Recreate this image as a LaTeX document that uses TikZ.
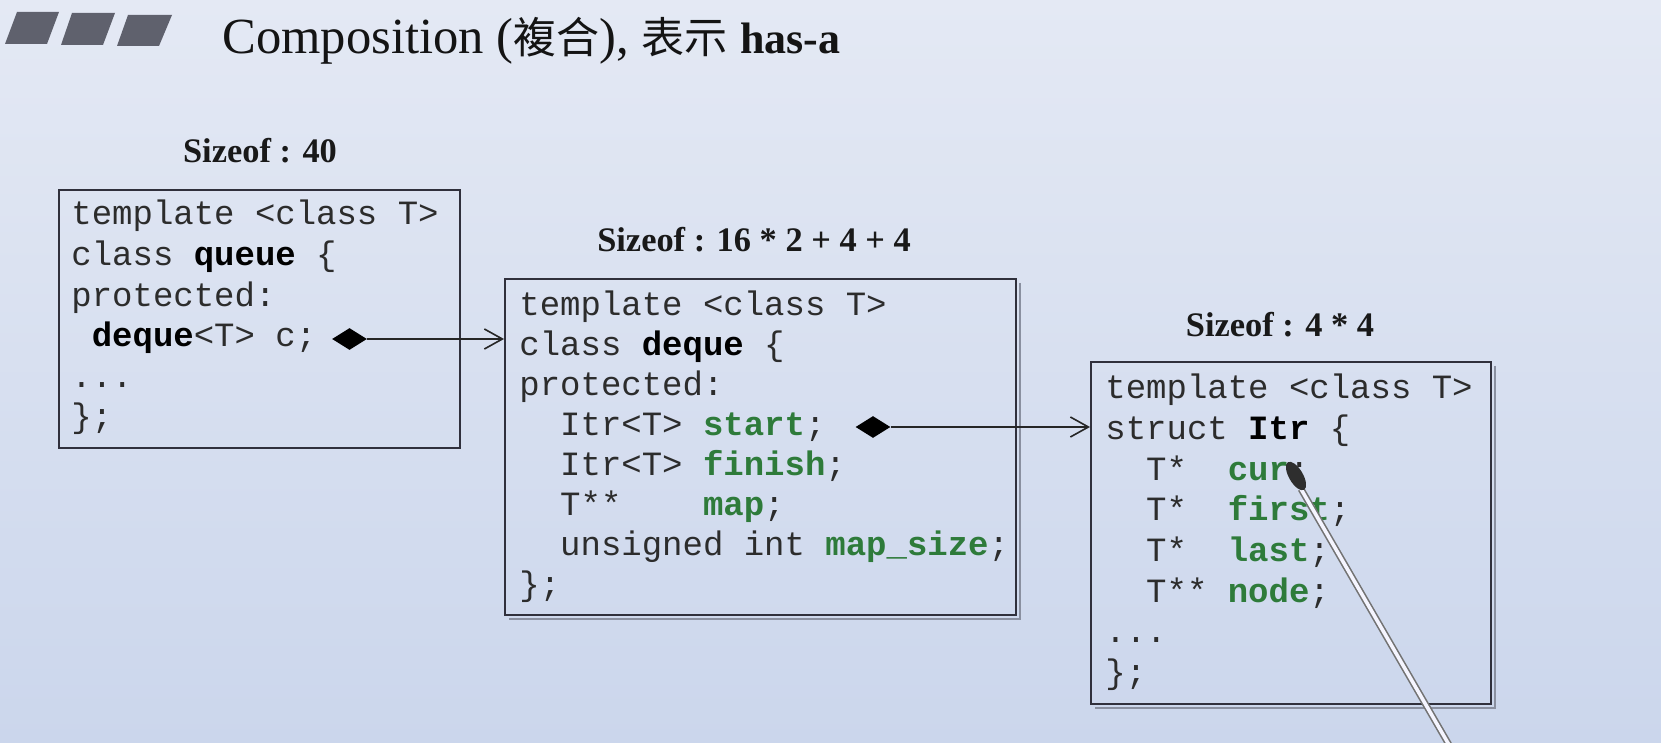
\documentclass[tikz,border=0pt]{standalone}
\usepackage{fontspec}
\setmainfont{Liberation Serif}
\newfontfamily\codefont{Liberation Mono}
\newfontfamily\cjkfont{Noto Sans CJK TC}
\usetikzlibrary{shapes.geometric,arrows.meta,calc}

\definecolor{bgtop}{HTML}{E4E9F4}
\definecolor{bgbot}{HTML}{CBD6EC}
\definecolor{barcol}{HTML}{5F616D}
\definecolor{codegray}{HTML}{2C2C2C}
\definecolor{member}{HTML}{2E7B3A}
\definecolor{framecol}{HTML}{30303C}
\definecolor{shadowcol}{HTML}{8A90A0}

% member names in green bold, class names in black bold
\newcommand\mem[1]{\textbf{\textcolor{member}{#1}}}
\newcommand\cls[1]{\textbf{\textcolor{black}{#1}}}
\newcommand\gap[1]{\hspace*{#1}}
\newcommand\codedots{...}

\tikzset{
  codeline/.style={font=\codefont\fontsize{17pt}{20pt}\selectfont,
    text=codegray, anchor=base west, inner sep=0pt},
  sizelabel/.style={font=\bfseries\fontsize{17.2pt}{20pt}\selectfont,
    text=black!90, anchor=base, inner sep=0pt},
  classbox/.style={draw=framecol, line width=1pt, inner sep=0pt,
    anchor=north west},
  boxshadow/.style={draw=shadowcol, line width=1.4pt},
  owner/.style={shape=diamond, fill=black, draw=none, inner sep=0pt,
    minimum width=17.5pt, minimum height=11pt},
  link/.style={draw=black!85, line width=0.8pt,
    -{Straight Barb[length=9pt,width=10pt,line width=0.8pt]}},
}

\begin{document}
\begin{tikzpicture}[x=0.5pt,y=-0.5pt]
  % page background
  \useasboundingbox (0,0) rectangle (1661,743);
  \shade[top color=bgtop, bottom color=bgbot] (0,0) rectangle (1661,743);

  % title bar marks
  \fill[barcol] (5,44) -- (47,44) -- (59,12) -- (17,12) -- cycle;
  \fill[barcol] (61,45) -- (103,45) -- (115,13) -- (72,13) -- cycle;
  \fill[barcol] (117,46) -- (159,46) -- (172,15) -- (128,15) -- cycle;

  % title
  \node[anchor=base west, inner sep=0pt, text=black!92,
        font=\fontsize{25.3pt}{30pt}\selectfont] (title) at (222,54)
    {Composition ({\cjkfont\fontsize{21.5pt}{26pt}\selectfont 複合}),
     {\cjkfont\fontsize{21.5pt}{26pt}\selectfont 表示}
     {\bfseries\fontsize{22pt}{26pt}\selectfont has-a}};

  % class boxes
  \node[classbox, minimum width=200.5pt, minimum height=129pt] (qbox) at (58,189) {};
  \node[classbox, minimum width=255.5pt, minimum height=168pt] (dbox) at (504,278) {};
  \node[classbox, minimum width=200pt, minimum height=171pt] (ibox) at (1090,361) {};

  % drop shadows on the right and bottom edges
  \draw[boxshadow] ($(dbox.north east)+(3,5)$) -- ($(dbox.south east)+(3,3)$) -- ($(dbox.south west)+(5,3)$);
  \draw[boxshadow] ($(ibox.north east)+(3,5)$) -- ($(ibox.south east)+(3,3)$) -- ($(ibox.south west)+(5,3)$);

  % size labels
  \node[sizelabel] (qsize) at (260,163) {Sizeof : 40};
  \node[sizelabel] (dsize) at (754,252) {Sizeof : 16 * 2 + 4 + 4};
  \node[sizelabel] (isize) at (1280,337) {Sizeof : 4 * 4};

  % queue
  \foreach \t [count=\i] in {
      template <class T>,
      class \cls{queue} \{,
      protected:,
      \gap{0.6em}\cls{deque}<T> c;,
      \codedots,
      \};}
    \node[codeline] (q\i) at (71,{225+40.6*(\i-1)}) {\t};

  % deque
  \foreach \t [count=\i] in {
      template <class T>,
      class \cls{deque} \{,
      protected:,
      \gap{1.2em}Itr<T> \mem{start};,
      \gap{1.2em}Itr<T> \mem{finish};,
      \gap{1.2em}T**\gap{2.4em}\mem{map};,
      \gap{1.2em}unsigned int \mem{map\_size};,
      \};}
    \node[codeline] (d\i) at (519,{316+39.9*(\i-1)}) {\t};

  % Itr
  \foreach \t [count=\i] in {
      template <class T>,
      struct \cls{Itr} \{,
      \gap{1.2em}T*\gap{1.2em}\mem{cur};,
      \gap{1.2em}T*\gap{1.2em}\mem{first};,
      \gap{1.2em}T*\gap{1.2em}\mem{last};,
      \gap{1.2em}T** \mem{node};,
      \codedots,
      \};}
    \node[codeline] (i\i) at (1105,{399+40.6*(\i-1)}) {\t};

  % composition links
  \node[owner] (qown) at (349.5,339) {};
  \node[owner] (down) at (873,427) {};
  \draw[link] (qown.east) -- (dbox.west |- qown.east);
  \draw[link] (down.east) -- (ibox.west |- down.east);

  % pointer stick
  \draw[line width=3.4pt, color=black!55] (1301,489) -- (1452,750);
  \draw[line width=1.8pt, color=white!96!blue] (1301,489) -- (1452,750);
  \node[ellipse, fill=black!82, inner sep=0pt, minimum width=16pt,
        minimum height=7pt, rotate=-59.7] (tip) at (1296,476) {};
\end{tikzpicture}
\end{document}
